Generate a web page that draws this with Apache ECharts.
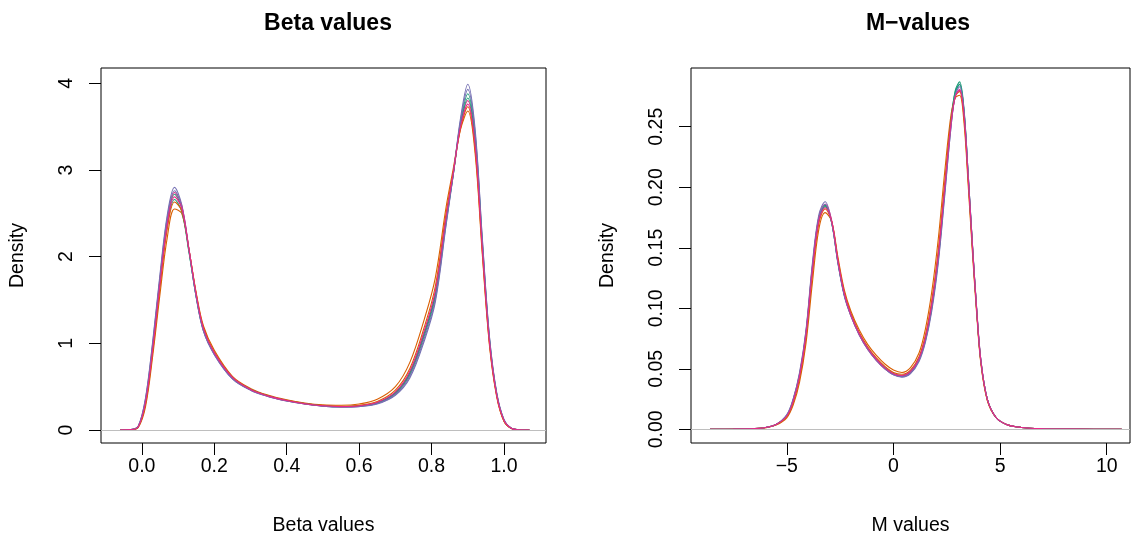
<!DOCTYPE html>
<html>
<head>
<meta charset="utf-8">
<script src="https://cdn.jsdelivr.net/npm/echarts@6/dist/echarts.min.js"></script>
<style>
  html, body { margin: 0; padding: 0; background: #fff; }
  #chart { width: 1131px; height: 535px; }
</style>
</head>
<body>
<div id="chart"></div>
<script>
// sample colours (RColorBrewer Dark2, first four)
const sampleColors = ['#1B9E77', '#D95F02', '#7570B3', '#E7298A', '#1B9E77', '#D95F02', '#7570B3', '#E7298A'];

// x grid of the beta density estimates
const betaX = [-0.06, -0.03, -0.01, 0.01, 0.03, 0.05, 0.07, 0.09, 0.11, 0.13, 0.15, 0.17, 0.20, 0.25, 0.30,
  0.35, 0.40, 0.45, 0.50, 0.55, 0.60, 0.65, 0.70, 0.74, 0.78, 0.81, 0.84, 0.86, 0.88, 0.90, 0.92, 0.94,
  0.96, 0.98, 1.00, 1.02, 1.04, 1.07];

const betaT1 = [0, 0.004, 0.04, 0.34, 0.98, 1.74, 2.41, 2.72, 2.56, 2.06, 1.54, 1.15, 0.88, 0.6, 0.465, 0.39, 0.338, 0.302, 0.278, 0.268, 0.275, 0.31, 0.42, 0.64, 1.09, 1.53, 2.4, 2.96, 3.55, 3.88, 3.4, 2.17, 1.04, 0.41, 0.11, 0.02, 0.003, 0];
const betaO1 = [0, 0.003, 0.03, 0.27, 0.86, 1.57, 2.22, 2.55, 2.5, 2.08, 1.58, 1.2, 0.92, 0.62, 0.48, 0.4, 0.348, 0.312, 0.29, 0.285, 0.3, 0.355, 0.5, 0.78, 1.28, 1.75, 2.57, 3.02, 3.47, 3.68, 3.2, 2.03, 0.97, 0.38, 0.1, 0.018, 0.003, 0];
const betaP1 = [0, 0.005, 0.045, 0.37, 1.03, 1.8, 2.48, 2.80, 2.6, 2.08, 1.53, 1.14, 0.87, 0.59, 0.46, 0.385, 0.335, 0.30, 0.275, 0.265, 0.27, 0.30, 0.40, 0.6, 1.03, 1.47, 2.36, 2.95, 3.6, 3.99, 3.48, 2.22, 1.07, 0.43, 0.12, 0.02, 0.003, 0];
const betaK1 = [0, 0.004, 0.04, 0.34, 0.97, 1.74, 2.42, 2.74, 2.59, 2.09, 1.56, 1.16, 0.88, 0.6, 0.463, 0.388, 0.337, 0.301, 0.277, 0.268, 0.276, 0.315, 0.43, 0.66, 1.12, 1.57, 2.44, 2.97, 3.52, 3.80, 3.32, 2.12, 1.02, 0.4, 0.11, 0.02, 0.003, 0];
const betaT2 = [0, 0.004, 0.038, 0.32, 0.95, 1.7, 2.36, 2.66, 2.52, 2.05, 1.54, 1.16, 0.89, 0.605, 0.47, 0.392, 0.34, 0.304, 0.28, 0.27, 0.278, 0.315, 0.43, 0.66, 1.12, 1.56, 2.42, 2.95, 3.52, 3.83, 3.36, 2.15, 1.03, 0.41, 0.11, 0.02, 0.003, 0];
const betaO2 = [0, 0.003, 0.034, 0.3, 0.91, 1.65, 2.32, 2.63, 2.53, 2.08, 1.57, 1.18, 0.9, 0.61, 0.47, 0.393, 0.342, 0.306, 0.282, 0.274, 0.285, 0.33, 0.46, 0.71, 1.19, 1.65, 2.5, 2.98, 3.48, 3.73, 3.25, 2.07, 0.99, 0.39, 0.1, 0.018, 0.003, 0];
const betaP2 = [0, 0.005, 0.043, 0.36, 1.01, 1.77, 2.45, 2.76, 2.58, 2.07, 1.53, 1.14, 0.87, 0.59, 0.46, 0.385, 0.335, 0.30, 0.276, 0.266, 0.272, 0.305, 0.41, 0.62, 1.06, 1.5, 2.38, 2.95, 3.57, 3.93, 3.44, 2.2, 1.06, 0.42, 0.12, 0.02, 0.003, 0];
const betaK2 = [0, 0.004, 0.037, 0.32, 0.94, 1.69, 2.37, 2.69, 2.56, 2.08, 1.56, 1.17, 0.89, 0.606, 0.468, 0.391, 0.34, 0.303, 0.279, 0.27, 0.28, 0.32, 0.44, 0.68, 1.15, 1.6, 2.46, 2.97, 3.5, 3.76, 3.29, 2.1, 1.01, 0.4, 0.11, 0.02, 0.003, 0];

// x grid of the M-value density estimates
const mX = [-8.6, -7.5, -6.5, -6.0, -5.5, -5.0, -4.7, -4.4, -4.1, -3.8, -3.5, -3.2, -2.9, -2.6, -2.3, -2.0,
  -1.6, -1.2, -0.8, -0.4, 0, 0.4, 0.8, 1.2, 1.5, 1.8, 2.1, 2.4, 2.7, 2.9, 3.1, 3.3, 3.5, 3.7, 3.9, 4.1,
  4.4, 4.8, 5.3, 6.0, 7.0, 8.5, 10.7];

const mT1 = [0, 0.0002, 0.0006, 0.0015, 0.004, 0.011, 0.024, 0.045, 0.079, 0.133, 0.174, 0.185, 0.171, 0.138, 0.111, 0.095, 0.079, 0.067, 0.058, 0.051, 0.046, 0.044, 0.047, 0.058, 0.074, 0.101, 0.141, 0.197, 0.255, 0.28, 0.287, 0.266, 0.212, 0.153, 0.099, 0.056, 0.025, 0.01, 0.004, 0.0015, 0.0005, 0.0002, 0];
const mO1 = [0, 0.0002, 0.0005, 0.0013, 0.0035, 0.0095, 0.02, 0.039, 0.071, 0.121, 0.165, 0.179, 0.172, 0.142, 0.115, 0.098, 0.082, 0.07, 0.061, 0.054, 0.049, 0.047, 0.051, 0.063, 0.083, 0.114, 0.157, 0.212, 0.26, 0.274, 0.276, 0.255, 0.203, 0.147, 0.096, 0.054, 0.024, 0.01, 0.004, 0.0015, 0.0005, 0.0002, 0];
const mP1 = [0, 0.0002, 0.0006, 0.0015, 0.004, 0.012, 0.025, 0.047, 0.082, 0.137, 0.177, 0.188, 0.172, 0.137, 0.110, 0.094, 0.078, 0.066, 0.057, 0.050, 0.045, 0.043, 0.046, 0.056, 0.072, 0.098, 0.137, 0.192, 0.25, 0.277, 0.285, 0.265, 0.212, 0.154, 0.1, 0.057, 0.025, 0.01, 0.004, 0.0015, 0.0005, 0.0002, 0];
const mK1 = [0, 0.0002, 0.0006, 0.0015, 0.004, 0.011, 0.024, 0.045, 0.08, 0.134, 0.175, 0.186, 0.173, 0.139, 0.111, 0.094, 0.078, 0.066, 0.057, 0.050, 0.0455, 0.044, 0.047, 0.058, 0.075, 0.102, 0.142, 0.197, 0.252, 0.275, 0.281, 0.262, 0.21, 0.153, 0.1, 0.057, 0.025, 0.01, 0.004, 0.0015, 0.0005, 0.0002, 0];
const mT2 = [0, 0.0002, 0.0006, 0.0015, 0.004, 0.011, 0.023, 0.044, 0.078, 0.131, 0.173, 0.184, 0.171, 0.138, 0.111, 0.095, 0.079, 0.067, 0.058, 0.051, 0.046, 0.0445, 0.048, 0.059, 0.075, 0.102, 0.142, 0.198, 0.255, 0.279, 0.285, 0.264, 0.21, 0.152, 0.099, 0.056, 0.025, 0.01, 0.004, 0.0015, 0.0005, 0.0002, 0];
const mO2 = [0, 0.0002, 0.0006, 0.0014, 0.0038, 0.0105, 0.022, 0.042, 0.076, 0.128, 0.17, 0.182, 0.172, 0.14, 0.113, 0.096, 0.08, 0.068, 0.059, 0.052, 0.047, 0.0455, 0.049, 0.06, 0.078, 0.107, 0.148, 0.203, 0.255, 0.275, 0.279, 0.259, 0.207, 0.15, 0.098, 0.055, 0.024, 0.01, 0.004, 0.0015, 0.0005, 0.0002, 0];
const mP2 = [0, 0.0002, 0.0006, 0.0015, 0.004, 0.012, 0.025, 0.046, 0.081, 0.135, 0.175, 0.186, 0.171, 0.137, 0.110, 0.094, 0.078, 0.066, 0.057, 0.050, 0.045, 0.0435, 0.0465, 0.057, 0.073, 0.1, 0.139, 0.194, 0.25, 0.276, 0.283, 0.264, 0.212, 0.154, 0.1, 0.057, 0.025, 0.01, 0.004, 0.0015, 0.0005, 0.0002, 0];
const mK2 = [0, 0.0002, 0.0006, 0.0015, 0.004, 0.011, 0.023, 0.044, 0.078, 0.131, 0.172, 0.183, 0.172, 0.139, 0.112, 0.095, 0.079, 0.067, 0.058, 0.051, 0.046, 0.0445, 0.048, 0.059, 0.076, 0.104, 0.144, 0.199, 0.253, 0.275, 0.28, 0.261, 0.209, 0.152, 0.099, 0.056, 0.025, 0.01, 0.004, 0.0015, 0.0005, 0.0002, 0];

const betaCurves = [betaT1, betaO1, betaP1, betaK1, betaT2, betaO2, betaP2, betaK2];
const mCurves = [mT1, mO1, mP1, mK1, mT2, mO2, mP2, mK2];

// tick labels
const betaTicks = [0.0, 0.2, 0.4, 0.6, 0.8, 1.0];
const betaYTicks = [0, 1, 2, 3, 4];
const mTicks = [-5, 0, 5, 10];
const mYTicks = [0, 0.05, 0.10, 0.15, 0.20, 0.25];

const font = 'Liberation Sans, Arial, Helvetica, sans-serif';
const fs = 19.5;

const chart = echarts.init(document.getElementById('chart'));

const makeX = (idx, min, max, ticks, digits, name) => ({
  type: 'value', gridIndex: idx, min: min, max: max, position: 'bottom',
  name: name, nameLocation: 'middle', nameGap: 73,
  nameTextStyle: { color: '#000', fontSize: fs, fontFamily: font },
  axisLine: { show: false, onZero: false },
  splitLine: { show: false },
  axisTick: { show: true, inside: false, length: 12, lineStyle: { color: '#000', width: 1 }, customValues: ticks },
  axisLabel: { show: true, margin: 14, color: '#000', fontSize: fs, fontFamily: font, customValues: ticks,
    formatter: v => digits > 0 ? v.toFixed(digits) : String(Math.round(v)).replace('-', '\u2212') }
});

const makeY = (idx, min, max, ticks, digits) => ({
  type: 'value', gridIndex: idx, min: min, max: max, position: 'left',
  name: 'Density', nameLocation: 'middle', nameGap: 73,
  nameTextStyle: { color: '#000', fontSize: fs, fontFamily: font },
  axisLine: { show: false, onZero: false },
  splitLine: { show: false },
  axisTick: { show: true, inside: false, length: 12, lineStyle: { color: '#000', width: 1 }, customValues: ticks },
  axisLabel: { show: true, rotate: 90, margin: 24, color: '#000', fontSize: fs, fontFamily: font, customValues: ticks,
    formatter: v => v.toFixed(digits) }
});

const series = [];
const addPanel = (idx, xs, curves) => {
  curves.forEach((ys, i) => {
    series.push({
      type: 'line', xAxisIndex: idx, yAxisIndex: idx,
      data: xs.map((x, j) => [x, ys[j]]),
      smooth: 0.35, showSymbol: false, silent: true,
      lineStyle: { color: sampleColors[i], width: 1.1 },
      z: 3,
      markLine: i === 0 ? {
        silent: true, symbol: 'none', label: { show: false },
        lineStyle: { color: '#bebebe', width: 1, type: 'solid' },
        data: [{ yAxis: 0 }]
      } : undefined
    });
  });
};
addPanel(0, betaX, betaCurves);
addPanel(1, mX, mCurves);

chart.setOption({
  backgroundColor: '#fff',
  animation: false,
  title: [
    { text: 'Beta values', left: 323, top: 7, textAlign: 'center',
      textStyle: { fontSize: 23, fontWeight: 'bold', color: '#000', fontFamily: font } },
    { text: 'M\u2212values', left: 913, top: 7, textAlign: 'center',
      textStyle: { fontSize: 23, fontWeight: 'bold', color: '#000', fontFamily: font } }
  ],
  grid: [
    { left: 101, top: 68, width: 445, height: 375, show: true, borderColor: '#000', borderWidth: 1,
      backgroundColor: 'transparent', outerBoundsMode: 'none', containLabel: false },
    { left: 691, top: 68, width: 439, height: 375, show: true, borderColor: '#000', borderWidth: 1,
      backgroundColor: 'transparent', outerBoundsMode: 'none', containLabel: false }
  ],
  xAxis: [
    makeX(0, -0.113, 1.116, betaTicks, 1, 'Beta values'),
    makeX(1, -9.49, 11.09, mTicks, 0, 'M values')
  ],
  yAxis: [
    makeY(0, -0.15, 4.177, betaYTicks, 0),
    makeY(1, -0.0113, 0.2985, mYTicks, 2)
  ],
  series: series
});
</script>
</body>
</html>
